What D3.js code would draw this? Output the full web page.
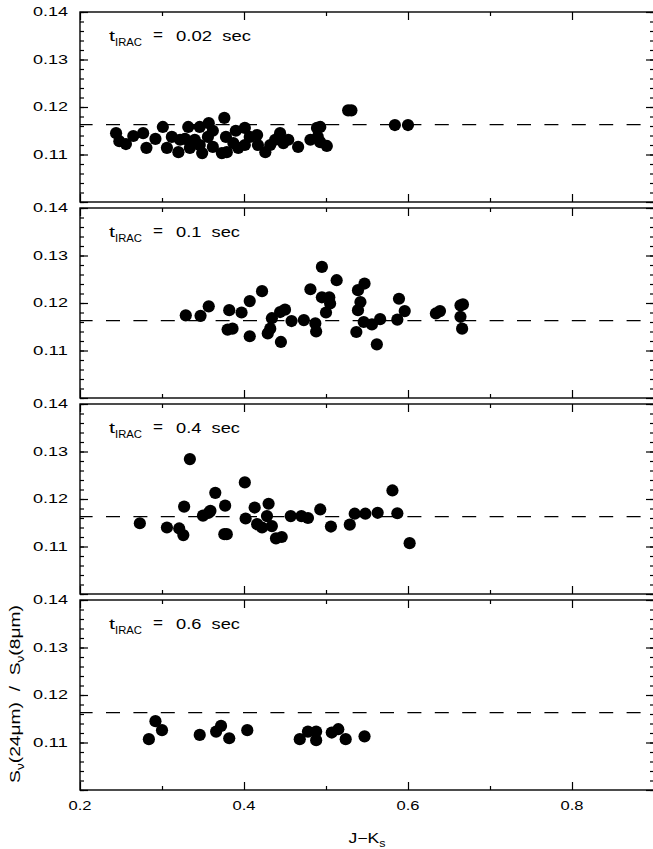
<!DOCTYPE html>
<html><head><meta charset="utf-8">
<script src="https://cdn.jsdelivr.net/npm/d3@7"></script>
<style>body{margin:0;background:#fff}svg{display:block}text{font-family:"Liberation Sans",Arial,sans-serif;fill:#000}</style>
</head><body>
<script>
// ---- data ----
const xDomain = [0.2, 0.9];
const yDomain = [0.10, 0.14];
const xTickValues = [0.2, 0.4, 0.6, 0.8];
const xMinorTicks = [0.3, 0.5, 0.7];
const yTickLabels = [0.11, 0.12, 0.13, 0.14];
const referenceLevel = 0.1163;
const exposureLabels = ["0.02", "0.1", "0.4", "0.6"];

const panel1 = [[0.244,0.1145],[0.248,0.1128],[0.256,0.1122],[0.265,0.1139],[0.277,0.1145],[0.281,0.1114],[0.292,0.1133],[0.301,0.1158],[0.306,0.1114],[0.312,0.1137],[0.320,0.1105],[0.322,0.1131],[0.328,0.1133],[0.332,0.1158],[0.334,0.1114],[0.340,0.1131],[0.346,0.1158],[0.346,0.1120],[0.349,0.1103],[0.356,0.1137],[0.357,0.1166],[0.362,0.1116],[0.362,0.1150],[0.373,0.1103],[0.376,0.1177],[0.378,0.1137],[0.379,0.1105],[0.387,0.1124],[0.390,0.1150],[0.393,0.1114],[0.401,0.1156],[0.401,0.1120],[0.407,0.1137],[0.416,0.1141],[0.417,0.1120],[0.426,0.1105],[0.432,0.1120],[0.438,0.1131],[0.444,0.1145],[0.448,0.1124],[0.454,0.1131],[0.466,0.1116],[0.481,0.1131],[0.489,0.1156],[0.490,0.1137],[0.493,0.1126],[0.493,0.1158],[0.501,0.1118],[0.527,0.1193],[0.531,0.1193],[0.584,0.1162],[0.600,0.1162]];
const panel2 = [[0.329,0.1174],[0.347,0.1173],[0.357,0.1193],[0.382,0.1185],[0.380,0.1144],[0.386,0.1146],[0.397,0.1180],[0.407,0.1204],[0.407,0.1130],[0.422,0.1225],[0.434,0.1168],[0.432,0.1146],[0.429,0.1136],[0.444,0.1181],[0.450,0.1186],[0.445,0.1118],[0.458,0.1162],[0.473,0.1164],[0.481,0.1229],[0.487,0.1157],[0.488,0.1140],[0.495,0.1276],[0.513,0.1248],[0.495,0.1212],[0.504,0.1212],[0.505,0.1199],[0.500,0.1180],[0.547,0.1241],[0.539,0.1227],[0.542,0.1202],[0.539,0.1185],[0.546,0.1160],[0.537,0.1139],[0.556,0.1155],[0.566,0.1166],[0.562,0.1113],[0.589,0.1209],[0.596,0.1183],[0.587,0.1165],[0.634,0.1178],[0.639,0.1183],[0.667,0.1197],[0.664,0.1195],[0.664,0.1171],[0.666,0.1146]];
const panel3 = [[0.273,0.1149],[0.306,0.1140],[0.321,0.1138],[0.326,0.1124],[0.327,0.1184],[0.334,0.1284],[0.350,0.1165],[0.357,0.1171],[0.359,0.1175],[0.365,0.1213],[0.377,0.1186],[0.376,0.1126],[0.379,0.1126],[0.401,0.1235],[0.402,0.1159],[0.413,0.1182],[0.416,0.1147],[0.422,0.1140],[0.430,0.1190],[0.428,0.1164],[0.434,0.1143],[0.439,0.1117],[0.446,0.1120],[0.457,0.1164],[0.470,0.1164],[0.478,0.1160],[0.493,0.1178],[0.506,0.1142],[0.529,0.1146],[0.535,0.1169],[0.548,0.1169],[0.563,0.1171],[0.581,0.1218],[0.587,0.1170],[0.602,0.1107]];
const panel4 = [[0.284,0.1107],[0.292,0.1145],[0.300,0.1126],[0.346,0.1116],[0.366,0.1123],[0.372,0.1135],[0.382,0.1109],[0.404,0.1126],[0.468,0.1107],[0.478,0.1123],[0.488,0.1123],[0.488,0.1105],[0.507,0.1121],[0.515,0.1128],[0.524,0.1107],[0.547,0.1113]];
const panels = [panel1, panel2, panel3, panel4];

// ---- layout ----
const W = 653, H = 849;
const left = 80, right = 654, top0 = 12, panelH = 190, step = 196;
const font = '"Liberation Sans",Arial,sans-serif';

const svg = d3.select("body").append("svg").attr("width", W).attr("height", H);
const x = d3.scaleLinear().domain(xDomain).range([left, right]);

function fitText(parent, tx, ty, str, size, width, anchor, rot) {
  const g = parent.append("g").attr("transform", `translate(${tx},${ty})` + (rot ? ` rotate(${rot})` : ""));
  const t = g.append("text").attr("font-size", size).attr("text-anchor", anchor || "start").style("white-space", "pre");
  if (typeof str === "string") t.text(str); else str(t);
  const w = t.node().getComputedTextLength();
  if (width && w > 0) t.attr("transform", `scale(${width / w},1)`);
  return t;
}

const yMinor = d3.range(0, 21).map(i => 0.10 + i * 0.002);

panels.forEach((data, i) => {
  const top = top0 + i * step, bottom = top + panelH;
  const y = d3.scaleLinear().domain(yDomain).range([bottom, top]);
  const g = svg.append("g");

  // reference dashed line
  g.append("line").attr("x1", x(xDomain[0])).attr("x2", x(xDomain[1]))
    .attr("y1", y(referenceLevel)).attr("y2", y(referenceLevel))
    .attr("stroke", "#000").attr("stroke-width", 1.3)
    .attr("stroke-dasharray", "14,13.4").attr("stroke-dashoffset", 1.4);

  // points
  g.selectAll("circle").data(data).join("circle")
    .attr("cx", d => x(d[0])).attr("cy", d => y(d[1])).attr("r", 6.1).attr("fill", "#000");

  // axes (inward ticks, PGPLOT style)
  const axB = d3.axisBottom(x).tickValues(xTickValues).tickSize(-8).tickFormat("");
  const axT = d3.axisTop(x).tickValues(xTickValues).tickSize(-8).tickFormat("");
  const axBm = d3.axisBottom(x).tickValues(xMinorTicks).tickSize(-4).tickFormat("");
  const axTm = d3.axisTop(x).tickValues(xMinorTicks).tickSize(-4).tickFormat("");
  const majorY = d3.range(0, 5).map(k => 0.10 + k * 0.01);
  const axL = d3.axisLeft(y).tickValues(majorY).tickSize(-8).tickFormat("");
  const axR = d3.axisRight(y).tickValues(majorY).tickSize(-8).tickFormat("");
  const axLm = d3.axisLeft(y).tickValues(yMinor).tickSize(-4).tickFormat("");
  const axRm = d3.axisRight(y).tickValues(yMinor).tickSize(-4).tickFormat("");
  [[axB, `translate(0,${bottom})`], [axBm, `translate(0,${bottom})`],
   [axT, `translate(0,${top})`], [axTm, `translate(0,${top})`],
   [axL, `translate(${left},0)`], [axLm, `translate(${left},0)`],
   [axR, `translate(${right},0)`], [axRm, `translate(${right},0)`]].forEach(([ax, tr]) => {
    const a = g.append("g").attr("transform", tr).call(ax);
    a.select(".domain").remove();
    a.selectAll("line").attr("stroke", "#000").attr("stroke-width", 1.2);
  });
  g.append("rect").attr("x", left).attr("y", top).attr("width", right - left).attr("height", panelH)
    .attr("fill", "none").attr("stroke", "#000").attr("stroke-width", 1.4);

  // y tick labels
  yTickLabels.forEach(v => {
    fitText(g, 68, y(v) + 4.3, d3.format(".2f")(v), 12, 35, "end");
  });

  // panel annotation t_IRAC = ... sec
  const by = top + 28.7;
  fitText(g, 109, by, "t", 15, 6, "start");
  fitText(g, 115, by + 5.5, "IRAC", 10.5, 27, "start");
  fitText(g, 153, by - 1, "=", 15, 10, "start");
  const lab = exposureLabels[i] + "  sec";
  fitText(g, 176, by, lab, 15, i === 0 ? 75 : 64, "start");
});

// x tick labels (bottom panel only)
const lastBottom = top0 + 3 * step + panelH;
xTickValues.forEach(v => fitText(svg, x(v), lastBottom + 20, d3.format(".1f")(v), 12, 23, "middle"));

// x axis title
fitText(svg, x(0.55), 843, t => {
  t.append("tspan").text("J\u2212K");
  t.append("tspan").attr("font-size", 10).attr("dy", 4).text("s");
}, 14, 37, "middle");

// y axis title
fitText(svg, 20, 694, t => {
  t.append("tspan").text("S");
  t.append("tspan").attr("font-size", 10).attr("dy", 4).text("\u03bd");
  t.append("tspan").attr("dy", -4).text("(24\u03bcm)  /  S");
  t.append("tspan").attr("font-size", 10).attr("dy", 4).text("\u03bd");
  t.append("tspan").attr("dy", -4).text("(8\u03bcm)");
}, 14, 178, "middle", -90);
</script>
</body></html>
